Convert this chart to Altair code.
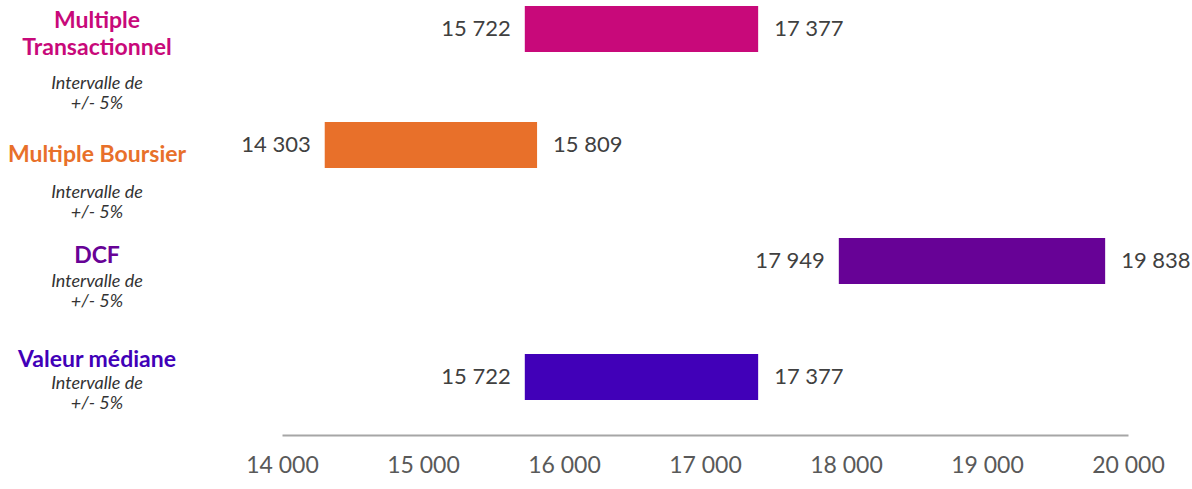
import altair as alt
import pandas as pd

categories = ["Multiple Transactionnel", "Multiple Boursier", "DCF", "Valeur médiane"]
title_lines = ["Multiple\nTransactionnel", "Multiple Boursier", "DCF", "Valeur médiane"]
low_values = [15722, 14303, 17949, 15722]
high_values = [17377, 15809, 19838, 17377]
colors = ["#C8097A", "#E8702A", "#670296", "#4100B8"]
x_ticks = [14000, 15000, 16000, 17000, 18000, 19000, 20000]
subtitle = "Intervalle de\n+/- 5%"

# layout (pixel offsets of the left-hand labels relative to the bar centre)
title_dy = [-8, 10, -5, -17]
sub_dy = [55, 48, 21, 7]

df = pd.DataFrame({
    "cat": categories,
    "title": title_lines,
    "low": low_values,
    "high": high_values,
    "color": colors,
})

FONT = "Lato"
fmt = "replace(format({v}, ','), ',', ' ')"

y_enc = alt.Y("cat:N", sort=categories, axis=None,
              scale=alt.Scale(paddingInner=0.603, paddingOuter=0.052))

base = alt.Chart(df)

bars = base.mark_bar().encode(
    x=alt.X("low:Q",
            scale=alt.Scale(domain=[14000, 20000], nice=False, zero=False),
            axis=alt.Axis(values=x_ticks, title=None, grid=False, ticks=False,
                          domainColor="#A6A6A6", domainWidth=2, offset=29,
                          labelPadding=19, labelFontSize=23, labelColor="#595959",
                          labelFont=FONT, labelFlush=False, labelOverlap=False,
                          labelExpr=fmt.format(v="datum.value"))),
    x2="high:Q",
    y=y_enc,
    color=alt.Color("color:N", scale=None),
)

low_text = base.transform_calculate(
    lbl=fmt.format(v="datum.low")
).mark_text(align="right", dx=-14, fontSize=22, color="#404040", font=FONT).encode(
    x="low:Q", y=y_enc, text="lbl:N")

high_text = base.transform_calculate(
    lbl=fmt.format(v="datum.high")
).mark_text(align="left", dx=16, fontSize=22, color="#404040", font=FONT).encode(
    x="high:Q", y=y_enc, text="lbl:N")

layers = [bars, low_text, high_text]
for i, c in enumerate(categories):
    sub = base.transform_filter(alt.datum.cat == c)
    layers.append(
        sub.mark_text(align="center", baseline="middle", dy=title_dy[i], fontSize=23,
                      fontWeight="bold", font=FONT, lineBreak="\n", lineHeight=27,
                      color=colors[i]).encode(
            x=alt.value(-185), y=y_enc, text="title:N")
    )
    layers.append(
        sub.transform_calculate(s=f"'{subtitle}'".replace("\n", "\\n")).mark_text(
            align="center", baseline="middle", dy=sub_dy[i], fontSize=18,
            fontStyle="italic", font=FONT, lineBreak="\n", lineHeight=20,
            color="#333333").encode(
            x=alt.value(-185), y=y_enc, text="s:N")
    )

chart = alt.layer(*layers).properties(
    width=846, height=406,
    autosize=alt.AutoSizeParams(type="none"),
    padding={"left": 282, "top": 0, "right": 64, "bottom": 83},
).configure(background="white").configure_view(strokeWidth=0, stroke=None)

chart.save("out.html", embed_options={"renderer": "svg", "actions": False})
